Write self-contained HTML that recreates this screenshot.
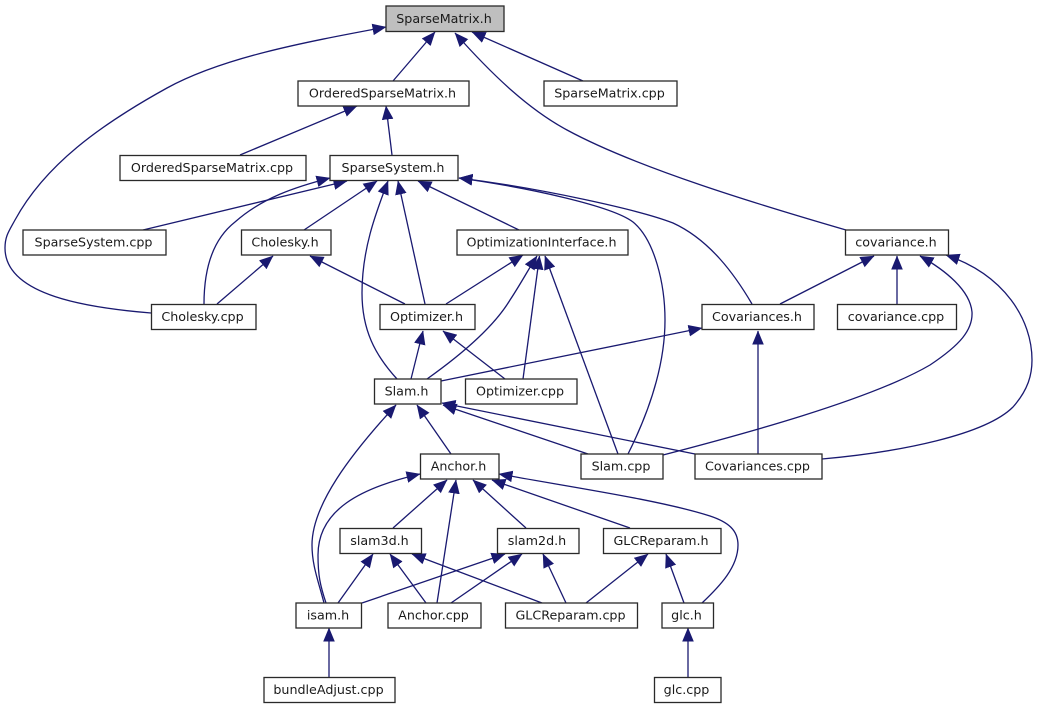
<!DOCTYPE html>
<html><head><meta charset="utf-8"><style>
html,body{margin:0;padding:0;background:#fff;width:1038px;height:709px;overflow:hidden}
svg{display:block}
.e path{fill:none;stroke:#191970;stroke-width:1.3;marker-end:url(#a)}
.n rect{fill:#fff;stroke:#2a2a2a;stroke-width:1.3}
.n text{font-family:"DejaVu Sans","Liberation Sans",sans-serif;font-size:12.7px;fill:#1a1a1a;text-anchor:middle;transform:translate(-1px,0)}
</style></head><body>
<svg width="1038" height="709" viewBox="0 0 1038 709" xmlns="http://www.w3.org/2000/svg">
<defs><marker id="a" markerUnits="userSpaceOnUse" markerWidth="14" markerHeight="12" viewBox="0 0 14 12" refX="13.5" refY="6" orient="auto"><polygon points="0,0.2 14,6 0,11.8" fill="#191970"/></marker></defs>
<g class="e">
<path d="M151,313C90,308 5,296 5,248C5,236 9,231 15,220C45,165 100,125 167,88C222,58 300,43 386,27"/>
<path d="M393,81L435,32"/>
<path d="M583,81L472,32"/>
<path d="M846,230C760,205 637,168 567,130C530,110 495,78 455,33"/>
<path d="M240,155L357,106"/>
<path d="M392,155L386,106"/>
<path d="M143,230L347,181"/>
<path d="M204,304C204,270 212,240 235,222C262,198 295,187 330,178"/>
<path d="M304,230L377,181"/>
<path d="M397,379C375,355 362,330 362,293C362,250 375,215 388,181"/>
<path d="M425,304L398,181"/>
<path d="M519,230L418,181"/>
<path d="M628,454C645,420 665,370 665,320C665,285 655,240 633,222C612,206 530,188 459,178"/>
<path d="M752,304C735,275 710,240 673,223C640,210 540,188 459,178"/>
<path d="M217,304L273,256"/>
<path d="M405,304L310,256"/>
<path d="M446,304L523,255"/>
<path d="M427,379C465,352 495,325 510,300C520,285 528,270 537,256"/>
<path d="M523,379L539.500,256"/>
<path d="M618,454L545,256"/>
<path d="M411,379L423,331"/>
<path d="M505,379L443,331"/>
<path d="M441,381L702,328"/>
<path d="M780,304L874,256"/>
<path d="M897,304L897,256"/>
<path d="M663,455C740,435 870,400 930,365C960,345 973,330 972,312C970,290 945,270 920,256"/>
<path d="M822,459C900,452 985,435 1013,407C1028,390 1032,375 1032,360C1032,320 1005,275 946,255"/>
<path d="M758,454L758,331"/>
<path d="M588,454L443,405"/>
<path d="M695,454L442,403"/>
<path d="M451,454L417,405"/>
<path d="M324,603C318,580 312,565 312,545C312,505 350,455 396,405"/>
<path d="M326,603C320,585 318,575 318,555C318,510 360,488 420,474"/>
<path d="M393,528L447,480"/>
<path d="M437,603L456,480"/>
<path d="M526,528L473,480"/>
<path d="M630,528L492,480"/>
<path d="M702,603C720,586 738,567 738,545C738,530 728,522 710,516C660,500 570,487 499,474"/>
<path d="M338,603L373,554"/>
<path d="M426,603L390,554"/>
<path d="M542,603L412,554"/>
<path d="M362,603L505,554"/>
<path d="M451,603L522,554"/>
<path d="M566,603L543,554"/>
<path d="M586,603L648,554"/>
<path d="M684,603L666,554"/>
<path d="M329,677L329,628"/>
<path d="M688,677L688,628"/>
</g>
<g class="n">
<rect x="386" y="6" width="118" height="25.500" style="fill:#bfbfbf"/><text x="445" y="23">SparseMatrix.h</text>
<rect x="298" y="81" width="171" height="25"/><text x="383.500" y="97.500">OrderedSparseMatrix.h</text>
<rect x="544" y="81" width="133" height="25"/><text x="610.500" y="97.500">SparseMatrix.cpp</text>
<rect x="330" y="155.500" width="128" height="25"/><text x="394" y="172">SparseSystem.h</text>
<rect x="120" y="155.500" width="186" height="25"/><text x="213" y="172">OrderedSparseMatrix.cpp</text>
<rect x="23" y="230" width="143" height="25"/><text x="94.500" y="246.500">SparseSystem.cpp</text>
<rect x="241.500" y="230" width="89.500" height="25"/><text x="286" y="246.500">Cholesky.h</text>
<rect x="457" y="230" width="171" height="25"/><text x="542.500" y="246.500">OptimizationInterface.h</text>
<rect x="845.500" y="230" width="103" height="25"/><text x="897" y="246.500">covariance.h</text>
<rect x="151.500" y="304.500" width="104.500" height="25"/><text x="203.500" y="321">Cholesky.cpp</text>
<rect x="380" y="304.500" width="95" height="25"/><text x="427.500" y="321">Optimizer.h</text>
<rect x="702" y="304.500" width="112" height="25"/><text x="758" y="321">Covariances.h</text>
<rect x="837.500" y="304.500" width="119" height="25"/><text x="897" y="321">covariance.cpp</text>
<rect x="374.500" y="379" width="66.500" height="25"/><text x="407.500" y="395.500">Slam.h</text>
<rect x="465.500" y="379" width="111.500" height="25"/><text x="521" y="395.500">Optimizer.cpp</text>
<rect x="420.500" y="454" width="78.500" height="25"/><text x="459.500" y="470.500">Anchor.h</text>
<rect x="581" y="454" width="82" height="25"/><text x="622" y="470.500">Slam.cpp</text>
<rect x="695" y="454" width="127" height="25"/><text x="758.500" y="470.500">Covariances.cpp</text>
<rect x="340" y="528.500" width="81.500" height="25"/><text x="380.500" y="545">slam3d.h</text>
<rect x="497.500" y="528.500" width="81.500" height="25"/><text x="538" y="545">slam2d.h</text>
<rect x="603.500" y="528.500" width="117.500" height="25"/><text x="662" y="545">GLCReparam.h</text>
<rect x="296" y="603" width="65.500" height="25"/><text x="329" y="619.500">isam.h</text>
<rect x="388" y="603" width="93" height="25"/><text x="434.500" y="619.500">Anchor.cpp</text>
<rect x="505.500" y="603" width="132" height="25"/><text x="571.500" y="619.500">GLCReparam.cpp</text>
<rect x="662" y="603" width="51.500" height="25"/><text x="687.500" y="619.500">glc.h</text>
<rect x="264" y="677.500" width="131" height="25"/><text x="329.500" y="694">bundleAdjust.cpp</text>
<rect x="654.500" y="677.500" width="66.500" height="25"/><text x="687.500" y="694">glc.cpp</text>
</g>
</svg>
</body></html>
